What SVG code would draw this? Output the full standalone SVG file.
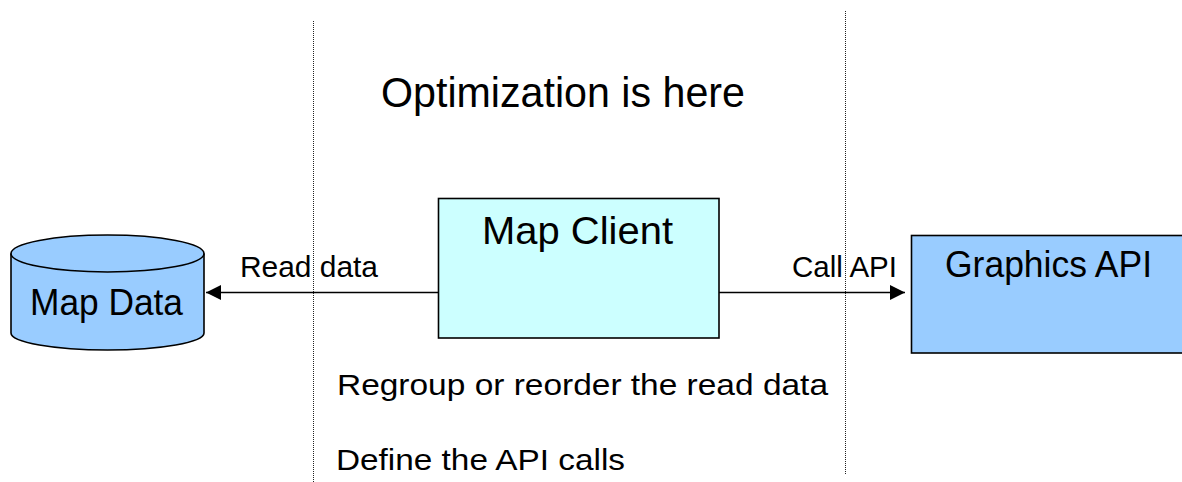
<svg xmlns="http://www.w3.org/2000/svg" width="1182" height="482" viewBox="0 0 1182 482">
  <style>
    text { font-family: "Liberation Sans", Arial, sans-serif; fill: #000; }
    .shape { stroke: #000; stroke-width: 1.6; }
    .divider { stroke: #222; stroke-width: 1; stroke-dasharray: 1 1; fill: none; }
    .conn { stroke: #000; stroke-width: 1.6; fill: none; }
  </style>
  <defs>
    <marker id="arrow" viewBox="0 0 10 10" refX="10" refY="5" markerWidth="15" markerHeight="15" markerUnits="userSpaceOnUse" orient="auto">
      <path d="M0,0 L10,5 L0,10 Z" fill="#000"/>
    </marker>
  </defs>
  <rect width="1182" height="482" fill="#fff"/>

  <g id="dividers">
    <line class="divider" x1="313.5" y1="21" x2="313.5" y2="482"/>
    <line class="divider" x1="845.5" y1="11" x2="845.5" y2="475"/>
  </g>

  <g id="title">
    <text x="563" y="107" font-size="42" text-anchor="middle" textLength="364" lengthAdjust="spacingAndGlyphs">Optimization is here</text>
  </g>

  <g id="connectors">
    <line class="conn" x1="438" y1="292.5" x2="206" y2="292.5" marker-end="url(#arrow)"/>
    <line class="conn" x1="719" y1="292.5" x2="905" y2="292.5" marker-end="url(#arrow)"/>
    <text x="240" y="277" font-size="29" textLength="138" lengthAdjust="spacingAndGlyphs">Read data</text>
    <text x="792" y="277" font-size="29" textLength="105" lengthAdjust="spacingAndGlyphs">Call API</text>
  </g>

  <g id="map-data">
    <path class="shape" fill="#99CCFF" d="M11,253.5 L11,333 A96.5,17 0 0 0 204,333 L204,253.5 A96.5,18.5 0 0 0 11,253.5 Z"/>
    <path class="shape" fill="none" d="M11,253.5 A96.5,18.5 0 0 0 204,253.5"/>
    <text x="30" y="315" font-size="37" textLength="153" lengthAdjust="spacingAndGlyphs">Map Data</text>
  </g>

  <g id="map-client">
    <rect class="shape" x="438.5" y="198.5" width="280.5" height="139.5" fill="#CCFFFF"/>
    <text x="482" y="244" font-size="39" textLength="191" lengthAdjust="spacingAndGlyphs">Map Client</text>
  </g>

  <g id="graphics-api">
    <rect class="shape" x="911.5" y="235.5" width="280" height="117.5" fill="#99CCFF"/>
    <text x="945" y="277" font-size="36" textLength="207" lengthAdjust="spacingAndGlyphs">Graphics API</text>
  </g>

  <g id="notes">
    <text x="337" y="395" font-size="30" textLength="491" lengthAdjust="spacingAndGlyphs">Regroup or reorder the read data</text>
    <text x="336" y="470" font-size="30" textLength="289" lengthAdjust="spacingAndGlyphs">Define the API calls</text>
  </g>
</svg>
